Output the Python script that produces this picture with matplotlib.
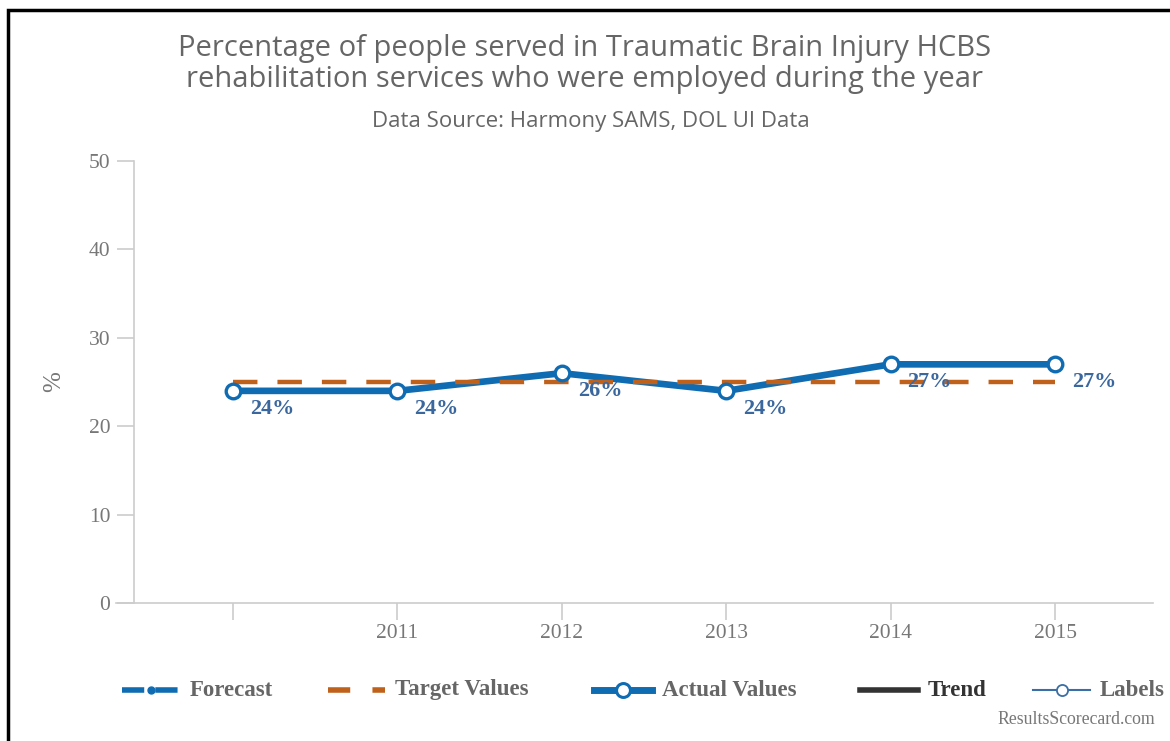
"""Recreation of the TBI HCBS employment line chart."""

import matplotlib
matplotlib.use("Agg")
import matplotlib.pyplot as plt
from matplotlib.lines import Line2D
from matplotlib.patches import Rectangle

years = [2010, 2011, 2012, 2013, 2014, 2015]
year_labels = ["", "2011", "2012", "2013", "2014", "2015"]
actual = [24, 24, 26, 24, 27, 27]
target = [25, 25, 25, 25, 25, 25]
point_labels = ["24%", "24%", "26%", "24%", "27%", "27%"]

BLUE = "#106cb2"
ORANGE = "#c0611b"
LABEL_BLUE = "#3a679e"
GRAY_TEXT = "#666666"
AXIS_GRAY = "#cccccc"
SERIF = ["Liberation Serif", "DejaVu Serif"]
SANS = ["Open Sans", "DejaVu Sans"]

fig = plt.figure(figsize=(11.7, 7.41), dpi=100)
ax = fig.add_axes([0.1145, 0.1862, 0.871, 0.5965])

ax.plot(years, actual, color=BLUE, linewidth=4.8, zorder=3, solid_capstyle="round")
ax.plot(years, target, color=ORANGE, linewidth=3.2, dashes=(5.5, 4.5), zorder=4)
ax.plot(years, actual, linestyle="none", marker="o", markersize=10.5,
        markerfacecolor="white", markeredgecolor=BLUE, markeredgewidth=2.4, zorder=5)

for x, y, txt in zip(years, actual, point_labels):
    ax.annotate(txt, (x, y), xytext=(28, -13), textcoords="offset points",
                ha="center", va="center", fontsize=16, fontweight="bold",
                family=SERIF, color=LABEL_BLUE, zorder=6)

ax.set_xlim(2009.398, 2015.596)
ax.set_ylim(0, 50)
ax.set_yticks([0, 10, 20, 30, 40, 50])
ax.set_xticks(years)
ax.set_xticklabels(year_labels)

for side in ("top", "right"):
    ax.spines[side].set_visible(False)
for side in ("left", "bottom"):
    ax.spines[side].set_color(AXIS_GRAY)
    ax.spines[side].set_linewidth(1.2)
ax.spines["bottom"].set_bounds(2009.29, 2015.596)

ax.tick_params(axis="both", colors=AXIS_GRAY, length=12, width=1.2,
               labelcolor="#777777", labelsize=15.5)
ax.tick_params(axis="y", pad=5)
ax.tick_params(axis="x", pad=3)
for lbl in ax.get_xticklabels() + ax.get_yticklabels():
    lbl.set_family(SERIF)

ax.set_ylabel("%", fontsize=18, color="#777777", family=SERIF, labelpad=17)

fig.text(0.5, 1 - 64 / 741, "Percentage of people served in Traumatic Brain Injury HCBS\n"
         "rehabilitation services who were employed during the year",
         ha="center", va="center", fontsize=21, color=GRAY_TEXT,
         family=SANS, linespacing=1.09)
fig.text(0.505, 1 - 122 / 741, "Data Source: Harmony SAMS, DOL UI Data", ha="center",
         va="center", fontsize=16, color=GRAY_TEXT, family=SANS)

# legend drawn by hand
W, H = 1170.0, 741.0
leg_y = 1 - 690 / H
items = [
    (122, 180, "Forecast", dict(color=BLUE, linewidth=4, dashes=(4, 2)), GRAY_TEXT, "dot"),
    (328, 385, "Target Values", dict(color=ORANGE, linewidth=4, dashes=(4, 4)), GRAY_TEXT, None),
    (594, 652, "Actual Values", dict(color=BLUE, linewidth=5), GRAY_TEXT, "big"),
    (860, 918, "Trend", dict(color="#333333", linewidth=4), "#333333", None),
    (1033, 1090, "Labels", dict(color="#3a6ea5", linewidth=1.5), GRAY_TEXT, "small"),
]
for x0, x1, name, style, tcol, mk in items:
    fig.add_artist(Line2D([x0 / W, x1 / W], [leg_y, leg_y], transform=fig.transFigure, **style))
    xm = (x0 + x1) / 2 / W
    if mk == "dot":
        fig.add_artist(Line2D([xm], [leg_y], transform=fig.transFigure, marker="o",
                              markersize=5, color=BLUE, linestyle="none"))
    elif mk == "big":
        fig.add_artist(Line2D([xm], [leg_y], transform=fig.transFigure, marker="o",
                              markersize=10, markerfacecolor="white",
                              markeredgecolor=BLUE, markeredgewidth=2.2, linestyle="none"))
    elif mk == "small":
        fig.add_artist(Line2D([xm], [leg_y], transform=fig.transFigure, marker="o",
                              markersize=8, markerfacecolor="white",
                              markeredgecolor="#3a6ea5", markeredgewidth=1.3, linestyle="none"))
    fig.text((x1 + 10) / W, leg_y, name, ha="left", va="center", fontsize=16.5,
             fontweight="bold", color=tcol, family=SERIF)

fig.text(1155 / W, 1 - 720 / H, "ResultsScorecard.com", ha="right", va="center",
         fontsize=12.8, color="#777777", family=SERIF)

# frame around the picture (right/bottom cropped off)
fig.add_artist(Rectangle((8 / W, -0.1), 1.2, 1 - 10 / H + 0.1, transform=fig.transFigure,
                         fill=False, edgecolor="black", linewidth=2.5))

fig.savefig("out.png", dpi=100)
